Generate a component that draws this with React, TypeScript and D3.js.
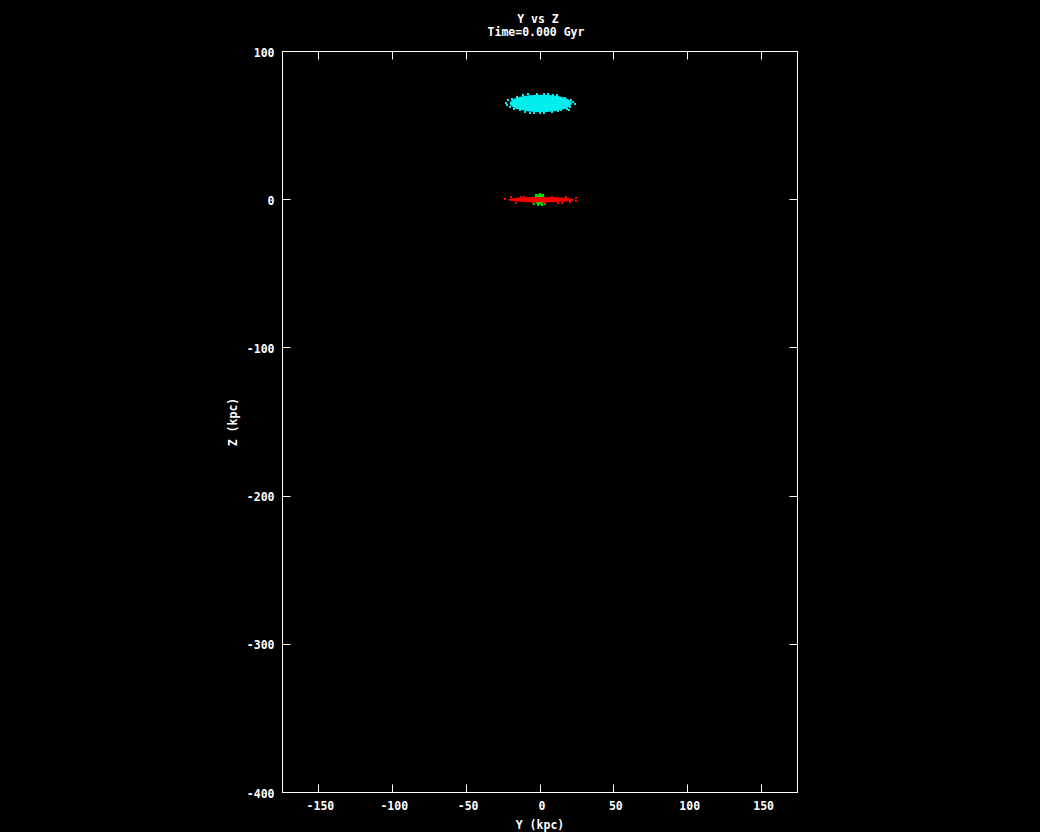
import React from 'react';
import * as d3 from 'd3';

// axis ticks
const xTicks = [-150, -100, -50, 0, 50, 100, 150];
const yTicks = [100, 0, -100, -200, -300, -400];

// particle clouds (center + radii in kpc)
const haloCloud = { cx: 0.5, cz: 65, rx: 21, rz: 5.9 };
const bulgeCloud = { cx: -0.3, cz: 0.3, rx: 3.8, rz: 3.6 };
const diskCloud = { cx: 0.8, cz: 0, rx: 22.5, rz: 1.8 };

// loose particles around the cloud edges [y, z]
const haloStray: [number, number][] = [
  [-23.1, 65.3], [23.8, 64.4], [20.4, 62.6], [18.2, 61.5], [-2.1, 71.2],
  [0.1, 58.2], [2.4, 58.6], [8, 59.2], [-11.2, 70.5], [-15.6, 69.4],
  [11.4, 70.5], [17, 68.3], [-20.2, 62.6], [-13.4, 60.4], [-6.6, 58.8],
  [22.4, 66.1], [-21.6, 67.0], [5.5, 71.0], [-8.0, 71.4], [14.5, 60.2],
  [-17.5, 61.3], [21.0, 67.6], [-4.0, 58.4], [12.0, 59.6], [-19.0, 68.2],
  [19.5, 60.6], [-10.0, 59.4], [3.0, 71.6], [9.0, 70.9], [-22.4, 63.6],
];
const diskStray: [number, number][] = [
  [-23.6, 0.3], [24.5, 1.2], [24.4, -0.8], [-16, -1.9], [-10.5, 2.0],
  [-5, -2.2], [8, 1.9], [12.5, -2.0], [17.5, 1.6], [20.5, -1.4],
  [-19.5, 1.5], [3.5, -2.3], [-13, 2.1], [15, -2.1],
];
const bulgeStray: [number, number][] = [
  [-1.5, -3.6], [1.5, -3.6], [0, 3.9], [-3.8, -2.6], [3.6, -2.6], [-2.5, 3.3], [2.3, 3.3],
];

const W = 1040;
const H = 832;

const x = d3.scaleLinear().domain([-174.3, 174.3]).range([282.5, 797.5]);
const y = d3.scaleLinear().domain([-400, 100]).range([792.5, 51.5]);

const font = "'DejaVu Sans Mono', monospace";
const crisp = (v: number) => Math.round(v - 0.5) + 0.5;

const Cloud = ({ c, color, stray }: { c: typeof haloCloud; color: string; stray: [number, number][] }) => (
  <g fill={color}>
    <ellipse
      cx={x(c.cx)}
      cy={y(c.cz)}
      rx={x(c.cx + c.rx) - x(c.cx)}
      ry={y(c.cz) - y(c.cz + c.rz)}
    />
    {stray.map(([a, b], i) => (
      <rect key={i} x={Math.round(x(a)) - 1} y={Math.round(y(b)) - 1} width={2} height={2} />
    ))}
  </g>
);

const App: React.FC = () => {
  const [x0, x1] = x.range();
  const [y0, y1] = y.range();
  const tick = 8;
  return (
    <svg
      width={W}
      height={H}
      style={{ position: 'fixed', left: 0, top: 0, background: '#000', display: 'block' }}
    >
      <rect width={W} height={H} fill="#000" />

      <Cloud c={haloCloud} color="#00eeee" stray={haloStray} />
      <Cloud c={bulgeCloud} color="#00e000" stray={bulgeStray} />
      <Cloud c={diskCloud} color="#ff0000" stray={diskStray} />

      <g stroke="#fff" strokeWidth={1} fill="none">
        <rect x={x0} y={y1} width={x1 - x0} height={y0 - y1} />
        {xTicks.map(t => (
          <g key={t}>
            <line x1={crisp(x(t))} x2={crisp(x(t))} y1={y0} y2={y0 - tick} />
            <line x1={crisp(x(t))} x2={crisp(x(t))} y1={y1} y2={y1 + tick} />
          </g>
        ))}
        {yTicks.map(t => (
          <g key={t}>
            <line x1={x0} x2={x0 + tick} y1={crisp(y(t))} y2={crisp(y(t))} />
            <line x1={x1} x2={x1 - tick} y1={crisp(y(t))} y2={crisp(y(t))} />
          </g>
        ))}
      </g>

      <g fill="#fff" fontFamily={font} fontWeight="bold" fontSize={11.5}>
        {xTicks.map(t => (
          <text key={t} x={x(t) + 2} y={806} textAnchor="middle" dominantBaseline="central">
            {t}
          </text>
        ))}
        {yTicks.map(t => (
          <text key={t} x={x0 - 8} y={y(t) + 1} textAnchor="end" dominantBaseline="central">
            {t}
          </text>
        ))}
        <text x={538} y={19} textAnchor="middle" dominantBaseline="central">Y vs Z</text>
        <text x={536} y={32} textAnchor="middle" dominantBaseline="central">Time=0.000 Gyr</text>
        <text x={540} y={825} textAnchor="middle" dominantBaseline="central">Y (kpc)</text>
        <text
          x={233}
          y={422}
          textAnchor="middle"
          dominantBaseline="central"
          transform="rotate(-90 233 422)"
        >
          Z (kpc)
        </text>
      </g>
    </svg>
  );
};

export default App;
